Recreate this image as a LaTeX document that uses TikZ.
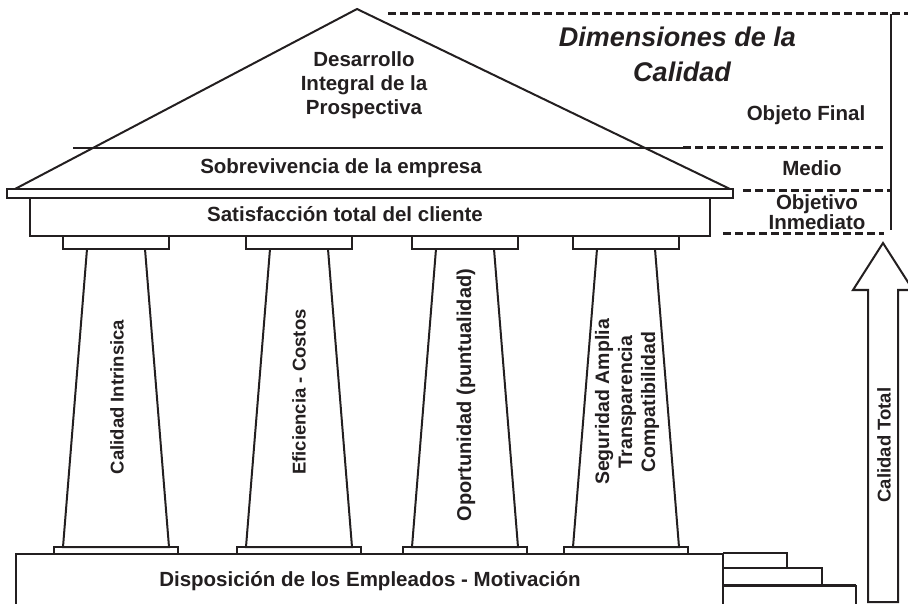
\documentclass[tikz,border=0pt]{standalone}
\usepackage{fontspec}
\setmainfont{Liberation Sans}
\definecolor{ink}{HTML}{231F20}
\begin{document}
\begin{tikzpicture}[x=1pt, y=-1pt, line width=2pt, draw=ink,
  lbl/.style={font=\fontsize{20.5}{24}\selectfont\bfseries, text=ink, inner sep=0pt, align=center},
  collbl/.style={lbl, font=\fontsize{18.5}{23}\selectfont\bfseries, rotate=90},
  titlbl/.style={lbl, font=\fontsize{27}{30}\selectfont\bfseries\itshape},
  dimline/.style={line width=3pt, dash pattern=on 8pt off 4pt}]
\useasboundingbox (0,0) rectangle (908,604);
\draw (15,189) -- (357,9) -- (730,189);
\draw (73,148) -- (683,148);
\draw[fill=white] (7,189) rectangle (733,198);
\draw (30,198) rectangle (710,236);
\foreach \cx in {116,299,465,626} {
  \draw (\cx-53,236) rectangle (\cx+53,249);
  \draw (\cx-29,249) -- (\cx-53,547) -- (\cx+53,547) -- (\cx+29,249);
  \draw (\cx-62,547) rectangle (\cx+62,554);
}
\draw (16,604) -- (16,554) -- (723,554) -- (723,604);
\draw (723,553) -- (787,553) -- (787,568) -- (723,568);
\draw (723,568) -- (822,568) -- (822,585);
\draw[line width=3pt] (723,585) -- (856,585);
\draw (856,585) -- (856,604);
\draw (868,602) -- (868,290) -- (853,290) -- (883,243) -- (913,290) -- (898,290) -- (898,602) -- cycle;
\draw (891,14) -- (891,230);
\draw[dimline] (388,14) -- (908,14);
\draw[dimline] (683,148) -- (885,148);
\draw[dimline] (743,191) -- (891,191);
\draw[dimline] (723,234) -- (884,234);
\node[lbl, anchor=base] (desarrollo) at (364,115) {Desarrollo\\Integral de la\\Prospectiva};
\node[lbl, anchor=base] (sobrev) at (341,174) {Sobrevivencia de la empresa};
\node[lbl, anchor=base] (satisf) at (345,222) {Satisfacción total del cliente};
\node[lbl, anchor=base] (dispos) at (370,586) {Disposición de los Empleados - Motivación};
\node[titlbl, anchor=base east] (dimtit) at (797,47) {Dimensiones de la};
\node[titlbl, anchor=base] (dimcal) at (682,82) {Calidad};
\node[lbl, anchor=base] (objfin) at (806,121) {Objeto Final};
\node[lbl, anchor=base] (medio) at (812,176) {Medio};
\node[lbl, anchor=base, font=\fontsize{20.5}{17}\selectfont\bfseries] (objinm) at (817,230) {Objetivo\\Inmediato};
\node[collbl] (intrins) at (117,397) {Calidad Intrinsica};
\node[collbl] (eficien) at (299,392) {Eficiencia - Costos};
\node[collbl, font=\fontsize{20}{23}\selectfont\bfseries] (oportun) at (466,395) {Oportunidad (puntualidad)};
\node[collbl, font=\fontsize{19.5}{23}\selectfont\bfseries] (segurid) at (627,402) {Seguridad Amplia\\Transparencia\\Compatibilidad};
\node[collbl] (caltot) at (884,445) {Calidad Total};
\end{tikzpicture}
\end{document}
